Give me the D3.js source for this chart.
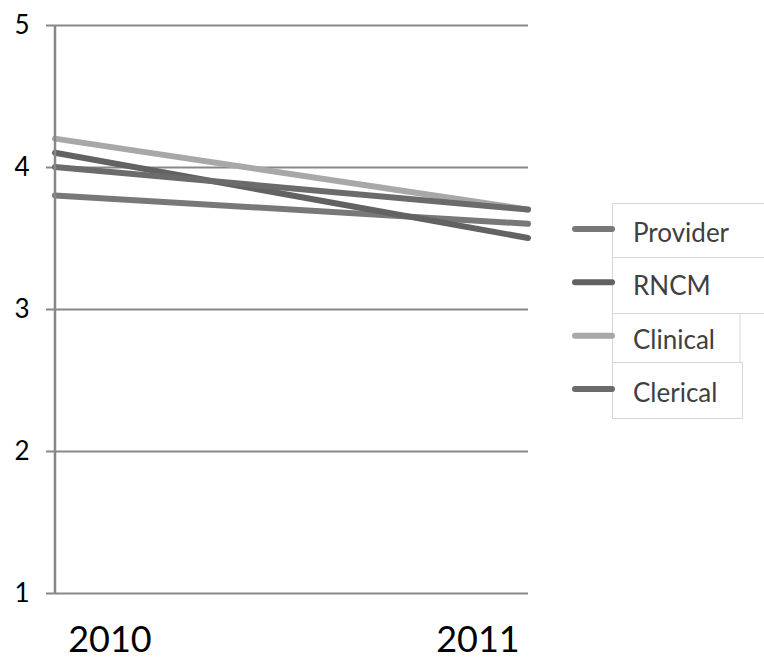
<!DOCTYPE html>
<html>
<head>
<meta charset="utf-8">
<script src="https://cdn.jsdelivr.net/npm/d3@7/dist/d3.min.js"></script>
<style>
  html, body { margin: 0; padding: 0; background: #ffffff; }
  svg { display: block; }
</style>
</head>
<body>
<svg id="chart" width="764" height="661"></svg>
<script>
// Survey scores by staff group, 2010 vs 2011
const years = ["2010", "2011"];
const seriesNames = ["Provider", "RNCM", "Clinical", "Clerical"];
const provider = [3.8, 3.6];
const rncm = [4.1, 3.5];
const clinical = [4.2, 3.7];
const clerical = [4.0, 3.7];
const yTicks = [1, 2, 3, 4, 5];

const seriesValues = [provider, rncm, clinical, clerical];
const seriesColors = ["#787878", "#626262", "#a8a8a8", "#6b6b6b"];

const W = 764, H = 661;
const svg = d3.select("#chart");
const font = "Lato, 'Open Sans', sans-serif";

const x = d3.scalePoint().domain(years).range([55, 528]);
const xLabel = d3.scalePoint().domain(years).range([110, 478]);
const y = d3.scaleLinear().domain([1, 5]).range([593, 25]);

// horizontal gridlines with small tick stubs to the left of the axis
const grid = d3.axisLeft(y)
  .tickValues(yTicks)
  .tickSize(-(528 - 46))
  .tickFormat("");
svg.append("g")
  .attr("transform", "translate(46,0)")
  .call(grid)
  .call(g => g.select(".domain").remove())
  .call(g => g.selectAll(".tick line")
    .attr("stroke", "#878787")
    .attr("stroke-width", 2));

// y tick labels
svg.append("g").selectAll("text")
  .data(yTicks)
  .join("text")
  .attr("x", 22)
  .attr("y", d => y(d))
  .attr("dy", "0.36em")
  .attr("text-anchor", "middle")
  .attr("font-family", font)
  .attr("font-size", 26)
  .attr("fill", "#000")
  .text(d => d);

// series lines
const line = d3.line()
  .x((d, i) => x(years[i]))
  .y(d => y(d));

svg.append("g").selectAll("path")
  .data(seriesValues)
  .join("path")
  .attr("d", d => line(d))
  .attr("fill", "none")
  .attr("stroke", (d, i) => seriesColors[i])
  .attr("stroke-width", 6)
  .attr("stroke-linecap", "round");

// vertical axis line
svg.append("line")
  .attr("x1", x(years[0])).attr("x2", x(years[0]))
  .attr("y1", y(5)).attr("y2", y(1))
  .attr("stroke", "#878787")
  .attr("stroke-width", 2.5);

// category labels
svg.append("g").selectAll("text")
  .data(years)
  .join("text")
  .attr("x", d => xLabel(d))
  .attr("y", 652)
  .attr("text-anchor", "middle")
  .attr("font-family", font)
  .attr("font-size", 36)
  .attr("fill", "#000")
  .text(d => d);

// legend
const legY = d3.scalePoint().domain(seriesNames).range([229, 389]);
const bounds = [203, 257, 313, 362, 418];
const leg = svg.append("g");

seriesNames.forEach((name, i) => {
  const cy = legY(name);
  const box = leg.append("rect")
    .attr("x", 612.5)
    .attr("y", bounds[i] + 0.5)
    .attr("height", bounds[i + 1] - bounds[i])
    .attr("fill", "#fff")
    .attr("stroke", "#d6d6d6")
    .attr("stroke-width", 1);

  leg.append("line")
    .attr("x1", 575).attr("x2", 612)
    .attr("y1", cy).attr("y2", cy)
    .attr("stroke", seriesColors[i])
    .attr("stroke-width", 6)
    .attr("stroke-linecap", "round");

  const t = leg.append("text")
    .attr("x", 633)
    .attr("y", cy + 13)
    .attr("font-family", font)
    .attr("font-size", 26)
    .attr("fill", "#404040")
    .text(name);

  const tw = t.node().getComputedTextLength();
  const right = i < 2 ? W + 2 : 633 + tw + 25;
  box.attr("width", right - 612.5);
});
</script>
</body>
</html>
